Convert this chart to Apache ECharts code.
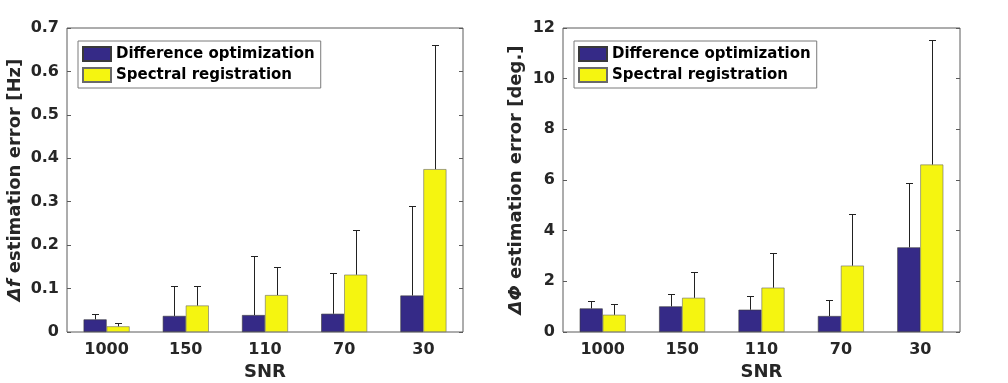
<!DOCTYPE html>
<html>
<head>
<meta charset="utf-8">
<script src="https://cdn.jsdelivr.net/npm/echarts@6/dist/echarts.min.js"></script>
<style>
  html, body { margin: 0; padding: 0; background: #fff; }
  #main { width: 1008px; height: 383px; }
</style>
</head>
<body>
<div id="main"></div>
<script>
// categories (SNR)
var snr = ['1000', '150', '110', '70', '30'];

// Δf estimation error [Hz]: mean and upper error (std)
var dfDiffMean = [0.029, 0.037, 0.039, 0.042, 0.084];
var dfDiffStd  = [0.013, 0.070, 0.136, 0.095, 0.205];
var dfSpecMean = [0.013, 0.061, 0.085, 0.132, 0.375];
var dfSpecStd  = [0.008, 0.046, 0.065, 0.103, 0.286];

// ΔΦ estimation error [deg.]
var dpDiffMean = [0.93, 1.01, 0.88, 0.63, 3.34];
var dpDiffStd  = [0.29, 0.50, 0.55, 0.63, 2.53];
var dpSpecMean = [0.68, 1.35, 1.75, 2.62, 6.61];
var dpSpecStd  = [0.41, 1.02, 1.36, 2.04, 4.92];

var FONT = 'DejaVu Sans';
var BLUE = '#352a87';
var YELLOW = '#f5f510';
var AXIS = '#5a5a5a';
var TXT = '#262626';
var BAR_W = 23;

function errData(mean, std) {
  return mean.map(function (m, i) { return [i, m, m + std[i]]; });
}

// draws one-sided error bar (up only) with a short cap
function errorBar(offset) {
  return function (params, api) {
    var base = api.coord([api.value(0), api.value(1)]);
    var top = api.coord([api.value(0), api.value(2)]);
    var x = Math.round(base[0] + offset) + 0.5;
    var y = Math.round(top[1]) + 0.5;
    var st = { stroke: '#222', lineWidth: 1 };
    return {
      type: 'group',
      children: [
        { type: 'line', shape: { x1: x, y1: base[1], x2: x, y2: y }, style: st },
        { type: 'line', shape: { x1: x - 3.5, y1: y, x2: x + 3.5, y2: y }, style: st }
      ]
    };
  };
}

function xAxes(gi) {
  return [
    {
      gridIndex: gi, type: 'category', data: snr, position: 'bottom',
      name: 'SNR', nameLocation: 'middle', nameGap: 30,
      nameTextStyle: { fontFamily: FONT, fontSize: 18, fontWeight: 'bold', color: TXT },
      axisLine: { show: false },
      axisTick: { inside: true, alignWithLabel: true, length: 4, lineStyle: { color: AXIS } },
      axisLabel: { fontFamily: FONT, fontSize: 16, fontWeight: 'bold', color: TXT, margin: 10 },
      splitLine: { show: false }
    },
    {
      gridIndex: gi, type: 'category', data: snr, position: 'top',
      axisLine: { show: false },
      axisTick: { inside: true, alignWithLabel: true, length: 4, lineStyle: { color: AXIS } },
      axisLabel: { show: false }, splitLine: { show: false }
    }
  ];
}

function yAxes(gi, max, interval, name, gap) {
  return [
    {
      gridIndex: gi, type: 'value', min: 0, max: max, interval: interval, position: 'left',
      name: name, nameLocation: 'middle', nameGap: gap,
      nameTextStyle: {
        fontFamily: FONT, fontSize: 18, fontWeight: 'bold', color: TXT,
        rich: { i: { fontFamily: FONT, fontSize: 18, fontWeight: 'bold', fontStyle: 'italic', color: TXT } }
      },
      axisLine: { show: false },
      axisTick: { show: true, inside: true, length: 4, lineStyle: { color: AXIS } },
      axisLabel: { fontFamily: FONT, fontSize: 16, fontWeight: 'bold', color: TXT, margin: 8 },
      splitLine: { show: false }
    },
    {
      gridIndex: gi, type: 'value', min: 0, max: max, interval: interval, position: 'right',
      axisLine: { show: false },
      axisTick: { show: true, inside: true, length: 4, lineStyle: { color: AXIS } },
      axisLabel: { show: false }, splitLine: { show: false }
    }
  ];
}

function legendFor(left) {
  return {
    orient: 'vertical', left: left, top: 41,
    data: ['Difference optimization', 'Spectral registration'],
    icon: 'rect',
    itemWidth: 28, itemHeight: 14, itemGap: 5,
    padding: [5, 6, 5, 4],
    borderColor: '#7a7a7a', borderWidth: 1, borderRadius: 0, backgroundColor: '#fff',
    selectedMode: false,
    textStyle: { fontFamily: FONT, fontSize: 15, fontWeight: 'bold', color: '#000' }
  };
}

function barsFor(gi, diffMean, specMean) {
  var xi = gi * 2, yi = gi * 2;
  return [
    {
      name: 'Difference optimization', type: 'bar', xAxisIndex: xi, yAxisIndex: yi,
      data: diffMean, barWidth: BAR_W, barGap: '0%',
      itemStyle: { color: BLUE, borderColor: '#3a3a3a', borderWidth: 0.6 },
      z: 2
    },
    {
      name: 'Spectral registration', type: 'bar', xAxisIndex: xi, yAxisIndex: yi,
      data: specMean, barWidth: BAR_W, barGap: '0%',
      itemStyle: { color: YELLOW, borderColor: '#6a6a6a', borderWidth: 0.6 },
      z: 2
    }
  ];
}

function errsFor(gi, diffMean, diffStd, specMean, specStd) {
  var xi = gi * 2, yi = gi * 2;
  return [
    {
      type: 'custom', xAxisIndex: xi, yAxisIndex: yi, z: 3, silent: true,
      data: errData(diffMean, diffStd), renderItem: errorBar(-BAR_W / 2),
      encode: { x: 0, y: [1, 2] }
    },
    {
      type: 'custom', xAxisIndex: xi, yAxisIndex: yi, z: 3, silent: true,
      data: errData(specMean, specStd), renderItem: errorBar(BAR_W / 2),
      encode: { x: 0, y: [1, 2] }
    }
  ];
}

var chart = echarts.init(document.getElementById('main'));
var option = {
  animation: false,
  backgroundColor: '#fff',
  legend: [legendFor(78), legendFor(574)],
  grid: [
    { left: 67, top: 28, width: 396, height: 304, outerBoundsMode: 'none', show: true, borderColor: AXIS, borderWidth: 1, backgroundColor: 'transparent' },
    { left: 563, top: 28, width: 397, height: 304, outerBoundsMode: 'none', show: true, borderColor: AXIS, borderWidth: 1, backgroundColor: 'transparent' }
  ],
  xAxis: xAxes(0).concat(xAxes(1)),
  yAxis: yAxes(0, 0.7, 0.1, '{i|Δf} estimation error [Hz]', 43)
    .concat(yAxes(1, 12, 2, '{i|ΔΦ} estimation error [deg.]', 38)),
  series: barsFor(0, dfDiffMean, dfSpecMean)
    .concat(barsFor(1, dpDiffMean, dpSpecMean))
    .concat(errsFor(0, dfDiffMean, dfDiffStd, dfSpecMean, dfSpecStd))
    .concat(errsFor(1, dpDiffMean, dpDiffStd, dpSpecMean, dpSpecStd))
};
chart.setOption(option);
</script>
</body>
</html>
